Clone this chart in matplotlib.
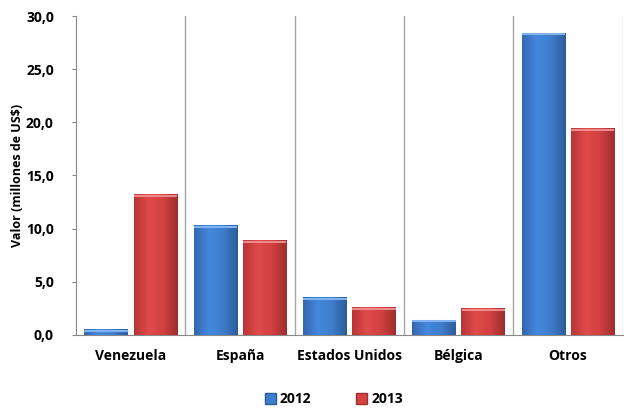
import matplotlib.pyplot as plt
import numpy as np
from matplotlib.colors import LinearSegmentedColormap
from matplotlib.patches import Patch

# data
paises = ['Venezuela', 'España', 'Estados Unidos', 'Bélgica', 'Otros']
v2012 = [0.5, 10.3, 3.5, 1.4, 28.4]
v2013 = [13.2, 8.9, 2.6, 2.5, 19.4]
yticks = [0, 5, 10, 15, 20, 25, 30]

plt.rcParams['font.family'] = ['Open Sans', 'DejaVu Sans']
plt.rcParams['font.weight'] = 'bold'

fig = plt.figure(figsize=(6.24, 4.11), dpi=100)
ax = fig.add_axes([0.122, 0.185, 0.876, 0.776])

x = np.arange(len(paises))
w = 0.4
b1 = ax.bar(x - 0.225, v2012, w, color='#3d7dcc', zorder=2)
b2 = ax.bar(x + 0.225, v2013, w, color='#d64141', zorder=2)

# shading across each bar, a bit like the 3D look of the original
azul = LinearSegmentedColormap.from_list('az', ['#3567b0', '#4488dc', '#3d7dcc', '#2d5c99'])
rojo = LinearSegmentedColormap.from_list('ro', ['#b83535', '#e04a4a', '#d24040', '#9e2e2e'])
grad = np.linspace(0, 1, 64).reshape(1, -1)
for bars, cm, top in ((b1, azul, '#7fb2ee'), (b2, rojo, '#f08a8a')):
    for p in bars:
        x0, h, bw = p.get_x(), p.get_height(), p.get_width()
        ax.imshow(grad, cmap=cm, aspect='auto', extent=(x0, x0 + bw, 0, h),
                  zorder=3, interpolation='bilinear')
        ax.plot([x0 + 0.01, x0 + bw - 0.01], [h - 0.12, h - 0.12], color=top, lw=1.5, zorder=4)

ax.set_xlim(-0.5, len(paises) - 0.5)
ax.set_ylim(0, 30)
ax.set_yticks(yticks)
ax.set_yticklabels([('%.1f' % t).replace('.', ',') for t in yticks], fontsize=10, fontweight='bold')
ax.set_xticks(x)
ax.set_xticklabels(paises, fontsize=10, fontweight='bold')
ax.tick_params(axis='x', length=0, pad=10)
ax.tick_params(axis='y', length=3, color='#888888', pad=13)

for xv in x[:-1] + 0.5:
    ax.axvline(xv, color='#a6a6a6', lw=1, zorder=1)
ax.axvline(len(paises) - 0.5, color='#c8c8c8', lw=1, zorder=1)

for s in ['top', 'right']:
    ax.spines[s].set_visible(False)
ax.spines['left'].set_color('#888888')
ax.spines['bottom'].set_color('#888888')

ax.set_ylabel('Valor (millones de US$)', fontsize=9, fontweight='bold')
ax.yaxis.set_label_coords(-0.095, 0.5)

handles = [Patch(facecolor='#3d7dcc', edgecolor='#2d5c99'),
           Patch(facecolor='#d64141', edgecolor='#9e2e2e')]
fig.legend(handles, ['2012', '2013'], loc='center', bbox_to_anchor=(0.535, 0.028),
           ncol=2, frameon=False, prop={'size': 10, 'weight': 'bold'},
           handlelength=0.8, handleheight=0.8, handletextpad=0.3, columnspacing=3.2)

plt.savefig('out.png', dpi=100)
